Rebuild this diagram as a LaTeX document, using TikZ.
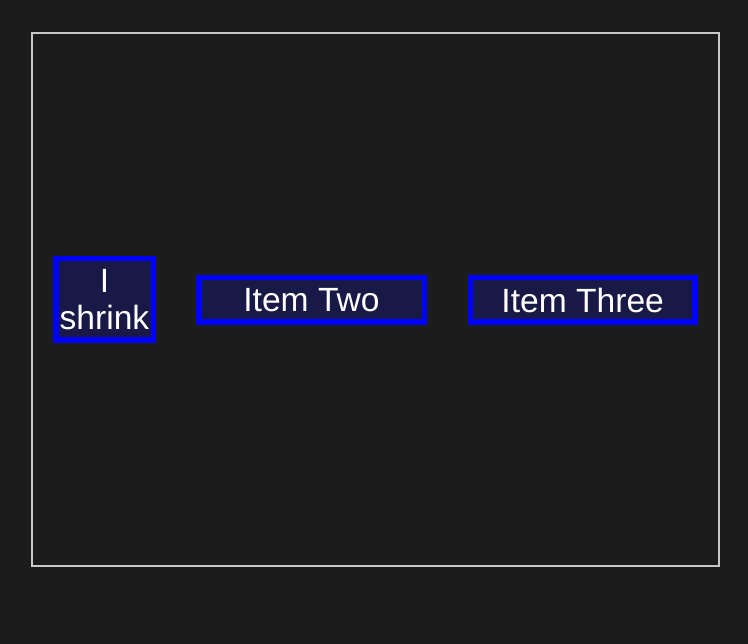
\documentclass[tikz,border=0pt]{standalone}
\usepackage{fontspec}
\setmainfont{Liberation Sans}
\definecolor{bgc}{HTML}{1C1C1C}
\definecolor{framec}{HTML}{C8C8C8}
\definecolor{itemfill}{HTML}{191948}
\definecolor{itemline}{HTML}{0000FF}
\begin{document}
\begin{tikzpicture}[x=1pt,y=-1pt,
  itembox/.style={draw=itemline, line width=5.5pt, fill=itemfill, inner sep=0pt,
    text=white, font=\fontsize{33.6}{37}\selectfont, align=center}]
\fill[bgc] (0,0) rectangle (748,644);
\useasboundingbox (0,0) rectangle (748,644);
\node[draw=framec, line width=2pt, minimum width=687pt, minimum height=533pt, inner sep=0pt] (frame) at (375.5,299.5) {};
\node[itembox, minimum width=97.5pt, minimum height=81.5pt] (a) at (104.5,299.5) {I\\shrink};
\node[itembox, minimum width=225.5pt, minimum height=44.5pt] (b) at (311.5,300) {Item Two};
\node[itembox, minimum width=224.5pt, minimum height=44.5pt] (c) at (582.7,300) {Item Three};
\end{tikzpicture}
\end{document}
